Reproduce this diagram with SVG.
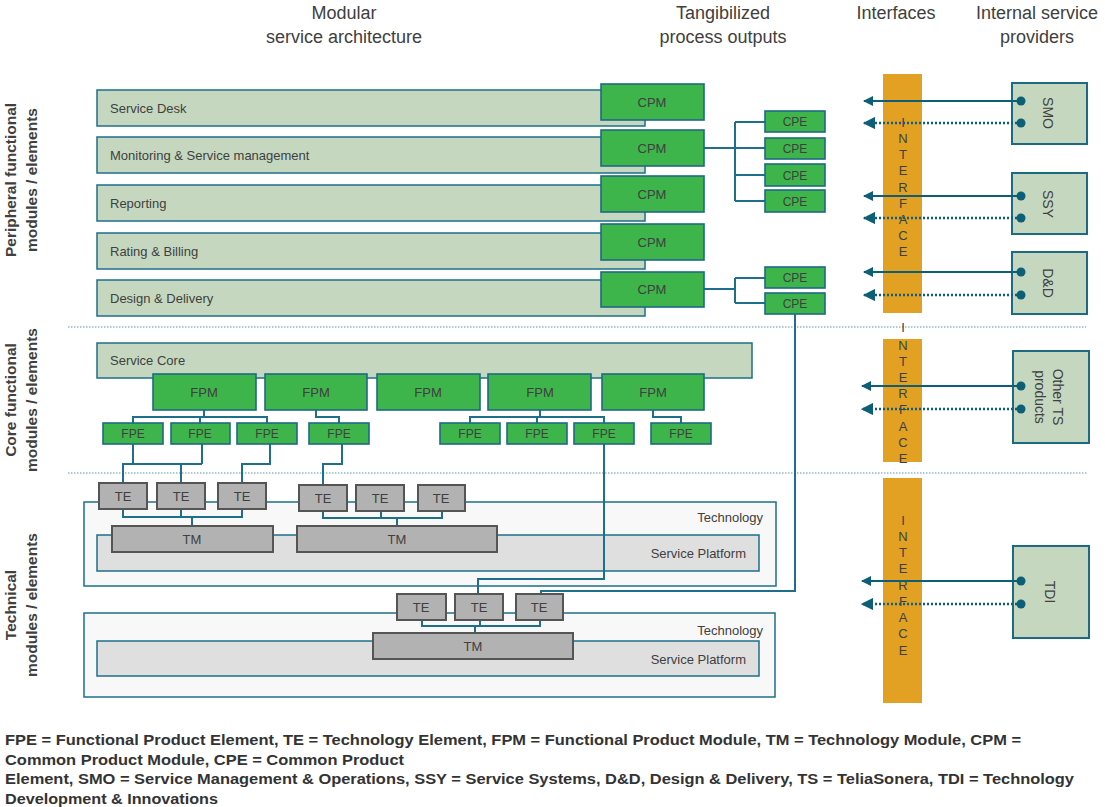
<svg xmlns="http://www.w3.org/2000/svg" width="1105" height="807" viewBox="0 0 1105 807">
<defs>
<style>
text{font-family:"Liberation Sans",Arial,sans-serif;fill:#404040}
.hd{font-size:18px;text-anchor:middle}
.lbl{font-size:15.5px;font-weight:bold;text-anchor:middle}
.row{fill:#c5d8bf;stroke:#1d6f8a;stroke-width:1.5}
.g{fill:#3db54a;stroke:#1d6a85;stroke-width:1.6}
.te{fill:#b2b2b2;stroke:#555;stroke-width:2}
.tech{fill:#f8f8f8;stroke:#1d6f8a;stroke-width:1.5}
.sp{fill:#dfdfdf;stroke:#1d6f8a;stroke-width:1.5}
.ifc{fill:#e3a123}
.prov{fill:#c5d8bf;stroke:#1d6a85;stroke-width:2}
.c{fill:none;stroke:#1d6f8a;stroke-width:2}
.t13{font-size:13px}
.t12{font-size:12px;text-anchor:middle}
.m13{font-size:13px;text-anchor:middle}
.r{font-size:13px;text-anchor:end}
.il{font-size:13px;text-anchor:middle}
.sep{stroke:#5b9aab;stroke-width:1.2;stroke-dasharray:1.5,1.5;fill:none}
.arr{stroke:#0d5f78;stroke-width:2;fill:none}
.dot{stroke:#0d5f78;stroke-width:2.5;stroke-dasharray:2,2;fill:none}
.pt{fill:#0d5f78}
.pv{font-size:14px;text-anchor:middle}
.leg{font-size:14px;font-weight:bold;fill:#333}
</style>
<marker id="ah" viewBox="0 0 10 10" refX="9" refY="5" markerWidth="5" markerHeight="5" orient="auto" markerUnits="strokeWidth">
<path d="M0,0 L10,5 L0,10 z" fill="#0d5f78"/>
</marker>
</defs>
<rect width="1105" height="807" fill="#fff"/>

<g id="headers">
<text class="hd" x="344" y="19">Modular</text>
<text class="hd" x="344" y="43">service architecture</text>
<text class="hd" x="723" y="19">Tangibilized</text>
<text class="hd" x="723" y="43">process outputs</text>
<text class="hd" x="896" y="19">Interfaces</text>
<text class="hd" x="1037" y="19">Internal service</text>
<text class="hd" x="1037" y="43">providers</text>
</g>

<g id="side-labels">
<text class="lbl" transform="translate(16,180) rotate(-90)">Peripheral functional</text>
<text class="lbl" transform="translate(37,180) rotate(-90)">modules / elements</text>
<text class="lbl" transform="translate(16,400) rotate(-90)">Core functional</text>
<text class="lbl" transform="translate(37,400) rotate(-90)">modules / elements</text>
<text class="lbl" transform="translate(16,605) rotate(-90)">Technical</text>
<text class="lbl" transform="translate(37,605) rotate(-90)">modules / elements</text>
</g>

<g id="separators">
<line class="sep" x1="68" y1="327" x2="1086" y2="327"/>
<line class="sep" x1="68" y1="473" x2="1088" y2="473"/>
</g>

<g id="interfaces">
<rect class="ifc" x="883" y="74" width="39" height="239"/>
<rect class="ifc" x="883" y="339" width="39" height="123"/>
<rect class="ifc" x="883" y="478" width="39" height="225"/>
</g>

<g id="rows">
<g id="row-service-desk"><rect class="row" x="97" y="90" width="548" height="36"/><text class="t13" x="110" y="113">Service Desk</text></g>
<g id="row-monitoring"><rect class="row" x="97" y="137" width="548" height="36"/><text class="t13" x="110" y="160">Monitoring &amp; Service management</text></g>
<g id="row-reporting"><rect class="row" x="97" y="185" width="548" height="36"/><text class="t13" x="110" y="208">Reporting</text></g>
<g id="row-rating"><rect class="row" x="97" y="233" width="548" height="36"/><text class="t13" x="110" y="256">Rating &amp; Billing</text></g>
<g id="row-design"><rect class="row" x="97" y="280" width="548" height="36"/><text class="t13" x="110" y="303">Design &amp; Delivery</text></g>
<g id="service-core"><rect class="row" x="97" y="343" width="655" height="35"/><text class="t13" x="110" y="365">Service Core</text></g>
</g>

<g id="tech-boxes">
<g id="technology-1"><rect class="tech" x="84" y="502" width="692" height="84"/><text class="r" x="763" y="522">Technology</text></g>
<g id="platform-1"><rect class="sp" x="97" y="535" width="662" height="36"/><text class="r" x="746" y="558">Service Platform</text></g>
<g id="technology-2"><rect class="tech" x="84" y="613" width="691" height="84"/><text class="r" x="763" y="635">Technology</text></g>
<g id="platform-2"><rect class="sp" x="97" y="641" width="662" height="35"/><text class="r" x="746" y="664">Service Platform</text></g>
</g>

<g id="connectors">
<path class="c" d="M704,148 H735 M735,122 V201 M735,122 H765 M735,148 H765 M735,175 H765 M735,201 H765"/>
<path class="c" d="M704,289 H735 M735,278 V303 M735,278 H765 M735,303 H765"/>
<path class="c" d="M795,314 V591 H541 V594"/>
<path class="c" d="M204,410 V417 M133,423 V417 H267 V423 M200,417 V423"/>
<path class="c" d="M316,410 V417 H339 V423"/>
<path class="c" d="M540,410 V417 M470,423 V417 H604 V423 M537,417 V423"/>
<path class="c" d="M653,410 V417 H681 V423"/>
<path class="c" d="M133,444 V464 M202,444 V464 M123,483 V464 H202 M181,464 V483"/>
<path class="c" d="M270,444 V464 H242 V483"/>
<path class="c" d="M342,444 V464 H323 V485"/>
<path class="c" d="M604,444 V579 H478 V594"/>
<path class="c" d="M123,509 V517 H242 V509 M181,509 V517 M192,517 V526"/>
<path class="c" d="M323,511 V518 H442 V511 M381,511 V518 M397,518 V526"/>
<path class="c" d="M422,620 V626 H540 V620 M480,620 V626 M475,626 V633"/>
</g>

<g id="cpms">
<g id="cpm-1"><rect class="g" x="601" y="84" width="103" height="36"/><text class="m13" x="652" y="107">CPM</text></g>
<g id="cpm-2"><rect class="g" x="601" y="130" width="103" height="36"/><text class="m13" x="652" y="153">CPM</text></g>
<g id="cpm-3"><rect class="g" x="601" y="176" width="103" height="36"/><text class="m13" x="652" y="199">CPM</text></g>
<g id="cpm-4"><rect class="g" x="601" y="224" width="103" height="36"/><text class="m13" x="652" y="247">CPM</text></g>
<g id="cpm-5"><rect class="g" x="601" y="272" width="103" height="35"/><text class="m13" x="652" y="294">CPM</text></g>
</g>

<g id="cpes">
<g id="cpe-1"><rect class="g" x="765" y="111" width="60" height="21"/><text class="t12" x="795" y="126">CPE</text></g>
<g id="cpe-2"><rect class="g" x="765" y="138" width="60" height="21"/><text class="t12" x="795" y="153">CPE</text></g>
<g id="cpe-3"><rect class="g" x="765" y="164" width="60" height="22"/><text class="t12" x="795" y="180">CPE</text></g>
<g id="cpe-4"><rect class="g" x="765" y="190" width="60" height="22"/><text class="t12" x="795" y="206">CPE</text></g>
<g id="cpe-5"><rect class="g" x="765" y="267" width="60" height="21"/><text class="t12" x="795" y="282">CPE</text></g>
<g id="cpe-6"><rect class="g" x="765" y="293" width="60" height="21"/><text class="t12" x="795" y="308">CPE</text></g>
</g>

<g id="fpms">
<g id="fpm-1"><rect class="g" x="153" y="374" width="103" height="36"/><text class="m13" x="204" y="397">FPM</text></g>
<g id="fpm-2"><rect class="g" x="265" y="374" width="102" height="36"/><text class="m13" x="316" y="397">FPM</text></g>
<g id="fpm-3"><rect class="g" x="377" y="374" width="103" height="36"/><text class="m13" x="428" y="397">FPM</text></g>
<g id="fpm-4"><rect class="g" x="488" y="374" width="103" height="36"/><text class="m13" x="540" y="397">FPM</text></g>
<g id="fpm-5"><rect class="g" x="602" y="374" width="102" height="36"/><text class="m13" x="653" y="397">FPM</text></g>
</g>

<g id="fpes">
<g id="fpe-1"><rect class="g" x="103" y="423" width="60" height="21"/><text class="t12" x="133" y="438">FPE</text></g>
<g id="fpe-2"><rect class="g" x="171" y="423" width="59" height="21"/><text class="t12" x="200" y="438">FPE</text></g>
<g id="fpe-3"><rect class="g" x="237" y="423" width="60" height="21"/><text class="t12" x="267" y="438">FPE</text></g>
<g id="fpe-4"><rect class="g" x="309" y="423" width="60" height="21"/><text class="t12" x="339" y="438">FPE</text></g>
<g id="fpe-5"><rect class="g" x="440" y="423" width="60" height="21"/><text class="t12" x="470" y="438">FPE</text></g>
<g id="fpe-6"><rect class="g" x="507" y="423" width="60" height="21"/><text class="t12" x="537" y="438">FPE</text></g>
<g id="fpe-7"><rect class="g" x="574" y="423" width="60" height="21"/><text class="t12" x="604" y="438">FPE</text></g>
<g id="fpe-8"><rect class="g" x="651" y="423" width="60" height="21"/><text class="t12" x="681" y="438">FPE</text></g>
</g>

<g id="tes">
<g id="te-1"><rect class="te" x="99" y="483" width="48" height="26"/><text class="m13" x="123" y="501">TE</text></g>
<g id="te-2"><rect class="te" x="157" y="483" width="48" height="26"/><text class="m13" x="181" y="501">TE</text></g>
<g id="te-3"><rect class="te" x="218" y="483" width="48" height="26"/><text class="m13" x="242" y="501">TE</text></g>
<g id="te-4"><rect class="te" x="299" y="485" width="48" height="26"/><text class="m13" x="323" y="503">TE</text></g>
<g id="te-5"><rect class="te" x="356" y="485" width="48" height="26"/><text class="m13" x="380" y="503">TE</text></g>
<g id="te-6"><rect class="te" x="418" y="485" width="47" height="26"/><text class="m13" x="441" y="503">TE</text></g>
<g id="te-7"><rect class="te" x="397" y="594" width="49" height="26"/><text class="m13" x="421" y="612">TE</text></g>
<g id="te-8"><rect class="te" x="455" y="594" width="48" height="26"/><text class="m13" x="479" y="612">TE</text></g>
<g id="te-9"><rect class="te" x="516" y="594" width="47" height="26"/><text class="m13" x="539" y="612">TE</text></g>
</g>

<g id="tms">
<g id="tm-1"><rect class="te" x="112" y="526" width="161" height="26"/><text class="m13" x="192" y="544">TM</text></g>
<g id="tm-2"><rect class="te" x="297" y="526" width="200" height="26"/><text class="m13" x="397" y="544">TM</text></g>
<g id="tm-3"><rect class="te" x="373" y="633" width="200" height="26"/><text class="m13" x="473" y="651">TM</text></g>
</g>

<g id="interface-labels">
<text class="il" x="903" y="127">I</text><text class="il" x="903" y="143">N</text><text class="il" x="903" y="159">T</text><text class="il" x="903" y="175">E</text><text class="il" x="903" y="192">R</text><text class="il" x="903" y="208">F</text><text class="il" x="903" y="224">A</text><text class="il" x="903" y="240">C</text><text class="il" x="903" y="256">E</text>
<text class="il" x="903" y="332">I</text><text class="il" x="903" y="350">N</text><text class="il" x="903" y="366">T</text><text class="il" x="903" y="382">E</text><text class="il" x="903" y="398">R</text><text class="il" x="903" y="414">F</text><text class="il" x="903" y="431">A</text><text class="il" x="903" y="447">C</text><text class="il" x="903" y="463">E</text>
<text class="il" x="903" y="525">I</text><text class="il" x="903" y="541">N</text><text class="il" x="903" y="557">T</text><text class="il" x="903" y="573">E</text><text class="il" x="903" y="590">R</text><text class="il" x="903" y="606">F</text><text class="il" x="903" y="622">A</text><text class="il" x="903" y="638">C</text><text class="il" x="903" y="655">E</text>
</g>

<g id="providers">
<g id="smo"><rect class="prov" x="1012" y="83" width="75" height="61"/><text class="pv" transform="translate(1043,113) rotate(90)">SMO</text></g>
<g id="ssy"><rect class="prov" x="1012" y="173" width="75" height="61"/><text class="pv" transform="translate(1043,204) rotate(90)">SSY</text></g>
<g id="dd"><rect class="prov" x="1012" y="252" width="75" height="62"/><text class="pv" transform="translate(1043,283) rotate(90)">D&amp;D</text></g>
<g id="other-ts"><rect class="prov" x="1013" y="351" width="76" height="92"/><text class="pv" transform="translate(1053,397) rotate(90)">Other TS</text><text class="pv" transform="translate(1035,397) rotate(90)">products</text></g>
<g id="tdi"><rect class="prov" x="1013" y="546" width="76" height="92"/><text class="pv" transform="translate(1045,592) rotate(90)">TDI</text></g>
</g>

<g id="provider-arrows">
<line class="arr" x1="1021" y1="101" x2="864" y2="101" marker-end="url(#ah)"/>
<line class="dot" x1="1021" y1="123" x2="864" y2="123" marker-end="url(#ah)"/>
<line class="arr" x1="1021" y1="196" x2="864" y2="196" marker-end="url(#ah)"/>
<line class="dot" x1="1021" y1="218" x2="864" y2="218" marker-end="url(#ah)"/>
<line class="arr" x1="1021" y1="272" x2="864" y2="272" marker-end="url(#ah)"/>
<line class="dot" x1="1021" y1="295" x2="864" y2="295" marker-end="url(#ah)"/>
<line class="arr" x1="1021" y1="386" x2="862" y2="386" marker-end="url(#ah)"/>
<line class="dot" x1="1021" y1="409" x2="862" y2="409" marker-end="url(#ah)"/>
<line class="arr" x1="1021" y1="581" x2="862" y2="581" marker-end="url(#ah)"/>
<line class="dot" x1="1021" y1="604" x2="862" y2="604" marker-end="url(#ah)"/>
<circle class="pt" cx="1021" cy="101" r="4.5"/><circle class="pt" cx="1021" cy="123" r="4.5"/>
<circle class="pt" cx="1021" cy="196" r="4.5"/><circle class="pt" cx="1021" cy="218" r="4.5"/>
<circle class="pt" cx="1021" cy="272" r="4.5"/><circle class="pt" cx="1021" cy="295" r="4.5"/>
<circle class="pt" cx="1021" cy="386" r="4.5"/><circle class="pt" cx="1021" cy="409" r="4.5"/>
<circle class="pt" cx="1021" cy="581" r="4.5"/><circle class="pt" cx="1021" cy="604" r="4.5"/>
</g>

<g id="legend">
<text class="leg" x="5" y="745" textLength="1016" lengthAdjust="spacingAndGlyphs">FPE = Functional Product Element, TE = Technology Element, FPM = Functional Product Module, TM = Technology Module, CPM =</text>
<text class="leg" x="5" y="765" textLength="399" lengthAdjust="spacingAndGlyphs">Common Product Module, CPE = Common Product</text>
<text class="leg" x="5" y="784" textLength="1069" lengthAdjust="spacingAndGlyphs">Element, SMO = Service Management &amp; Operations, SSY = Service Systems, D&amp;D, Design &amp; Delivery, TS = TeliaSonera, TDI = Technology</text>
<text class="leg" x="5" y="804" textLength="213" lengthAdjust="spacingAndGlyphs">Development &amp; Innovations</text>
</g>
</svg>
